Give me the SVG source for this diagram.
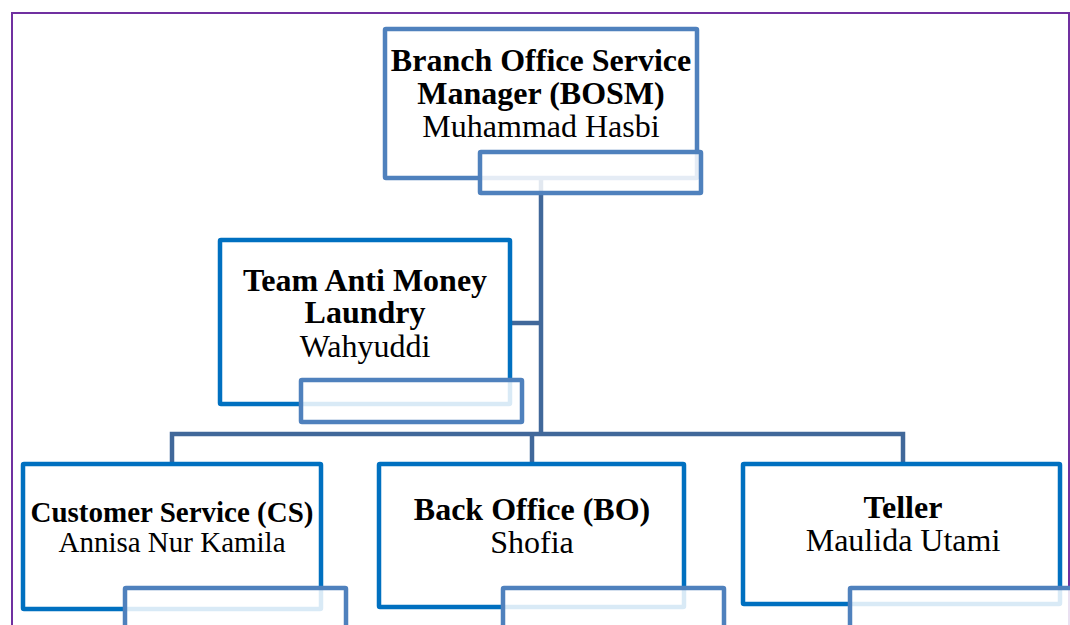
<svg xmlns="http://www.w3.org/2000/svg" width="1070" height="625" viewBox="0 0 1070 625">
<style>
.frame{fill:none;stroke:#7030A0;stroke-width:2}
.main{fill:#fff;stroke:#0070C0;stroke-width:4.5}
.top{fill:#fff;stroke:#4F81BD;stroke-width:4.5}
.sub{fill:#fff;fill-opacity:0.85;stroke:#4F81BD;stroke-width:4.5}
.conn{fill:none;stroke:#41689A;stroke-width:4.5}
text{font-family:'Liberation Serif','Times New Roman',Times,serif;font-size:32px;fill:#000;text-anchor:middle}
.b{font-weight:bold}
.s{font-size:29px}
</style>
<rect width="1070" height="625" fill="#fff"/>
<path class="frame" d="M12,625 V13 H1069 V625"/>
<g id="connectors">
<path class="conn" d="M541,180 V434"/>
<path class="conn" d="M510,323 H541"/>
<path class="conn" d="M172,464 V434 H903 V464"/>
<path class="conn" d="M532,434 V464"/>
</g>
<g id="bosm">
<rect class="top" x="385" y="29" width="312" height="149" rx="1"/>
<text class="b" x="541" y="71">Branch Office Service</text>
<text class="b" x="541" y="104">Manager (BOSM)</text>
<text x="541" y="137">Muhammad Hasbi</text>
<rect class="sub" x="480" y="152" width="221" height="41" rx="1"/>
</g>
<g id="aml">
<rect class="main" x="220" y="240" width="290" height="164" rx="1"/>
<text class="b" x="365" y="291">Team Anti Money</text>
<text class="b" x="365" y="323">Laundry</text>
<text x="365" y="357">Wahyuddi</text>
<rect class="sub" x="301" y="380" width="221" height="42" rx="1"/>
</g>
<g id="cs">
<rect class="main" x="23" y="464" width="298" height="145" rx="1"/>
<text class="b s" x="172" y="522">Customer Service (CS)</text>
<text class="s" x="172" y="552">Annisa Nur Kamila</text>
<rect class="sub" x="125" y="588" width="221" height="60" rx="1"/>
</g>
<g id="bo">
<rect class="main" x="379" y="464" width="305" height="143" rx="1"/>
<text class="b" x="532" y="520">Back Office (BO)</text>
<text x="532" y="553">Shofia</text>
<rect class="sub" x="503" y="588" width="221" height="60" rx="1"/>
</g>
<g id="teller">
<rect class="main" x="743" y="464" width="317" height="140" rx="1"/>
<text class="b" x="903" y="518">Teller</text>
<text x="903" y="551">Maulida Utami</text>
<rect class="sub" x="850" y="588" width="230" height="60" rx="1"/>
</g>
</svg>
